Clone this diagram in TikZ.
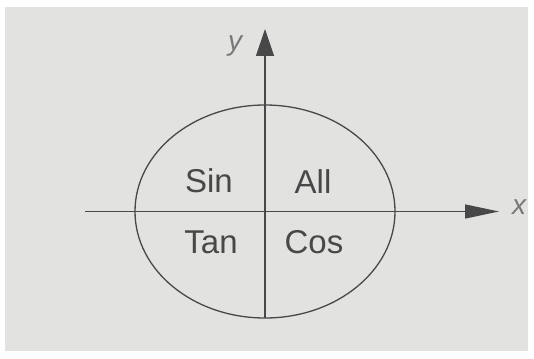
\documentclass[tikz,border=0pt]{standalone}
\usepackage{fontspec}
\setmainfont{Liberation Sans}
\usepackage{tikz}
\usetikzlibrary{arrows.meta,positioning}
\definecolor{papel}{RGB}{226,226,224}
\definecolor{tinta}{RGB}{72,72,72}
\definecolor{lapiz}{RGB}{120,120,120}

\begin{document}
\begin{tikzpicture}[x=1pt,y=-1pt,
quad/.style={text=tinta,font=\fontsize{33}{33}\selectfont,inner sep=0pt},
eje/.style={text=lapiz,font=\itshape\fontsize{28}{28}\selectfont,inner sep=0pt},
linea/.style={draw=tinta,line width=1.3pt},
flecha/.style={linea,-{Triangle[length=34pt,width=14pt]}}
]
\useasboundingbox (0,0) rectangle (534,358);
\fill[white] (0,0) rectangle (534,358);
\fill[papel] (5,7) rectangle (528,351);

\coordinate (O) at (265,211.5);
\coordinate (xi) at (85,211.5);
\coordinate (xf) at (499,211.5);
\coordinate (yi) at (265,318);
\coordinate (yf) at (265,29);

\draw[linea] (O) ellipse [x radius=130pt,y radius=106.5pt];
\draw[flecha] (xi) -- (xf);
\draw[linea,-{Triangle[length=27pt,width=18pt]}] (yi) -- (yf);

\node[eje] (lx) at (519,207) {x};
\node[eje] (ly) at (235,46) {y};

\node[quad] (sin) at (209,181) {Sin};
\node[quad] (all) at (313,182) {All};
\node[quad] (tan) at (211,242) {Tan};
\node[quad] (cos) at (314,242) {Cos};
\end{tikzpicture}
\end{document}
